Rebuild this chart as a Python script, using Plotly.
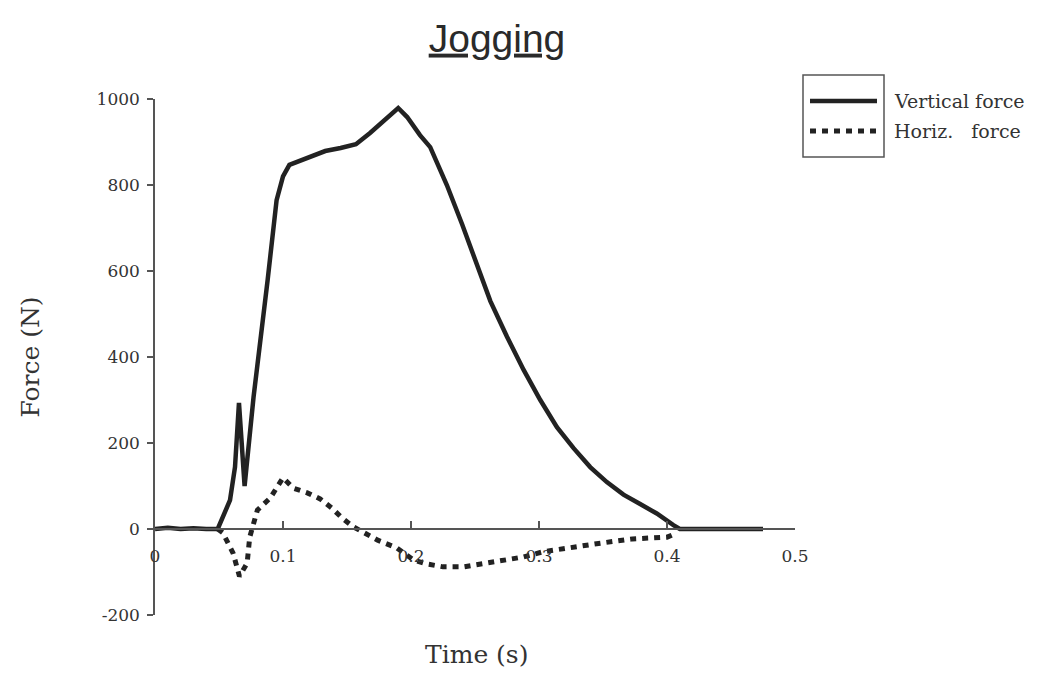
import plotly.graph_objects as go

# ---- data ----
time_vertical = [0, 0.01, 0.02, 0.03, 0.04, 0.049, 0.0586, 0.0625, 0.0656, 0.070, 0.077,
                 0.0836, 0.088, 0.095, 0.100, 0.105, 0.113, 0.120, 0.133, 0.145, 0.157,
                 0.168, 0.178, 0.190, 0.197, 0.207, 0.215, 0.228, 0.240, 0.250, 0.262,
                 0.275, 0.288, 0.301, 0.314, 0.327, 0.340, 0.353, 0.366, 0.379, 0.392,
                 0.405, 0.410, 0.43, 0.45, 0.475]
vertical_force = [0, 3, 0, 2, 0, 0, 67, 144, 293, 100, 307,
                  463, 579, 765, 820, 847, 856, 862, 879, 886, 895,
                  921, 947, 979, 958, 916, 888, 800, 708, 625, 530,
                  447, 370, 300, 237, 188, 144, 109, 80, 58, 36,
                  9, 0, 0, 0, 0]

time_horizontal = [0.049, 0.053, 0.061, 0.066, 0.072, 0.074, 0.080, 0.090, 0.100, 0.108,
                   0.119, 0.129, 0.138, 0.146, 0.155, 0.164, 0.174, 0.189, 0.202, 0.212,
                   0.225, 0.241, 0.256, 0.272, 0.288, 0.303, 0.322, 0.348, 0.373, 0.400, 0.408]
horizontal_force = [0, -9, -56, -110, -79, -19, 44, 72, 119, 95,
                    84, 70, 49, 26, 5, -9, -26, -44, -72, -81,
                    -88, -88, -81, -72, -65, -53, -44, -33, -23, -19, -9]

x_ticks = [0, 0.1, 0.2, 0.3, 0.4, 0.5]
x_tick_labels = ["0", "0.1", "0.2", "0.3", "0.4", "0.5"]
y_ticks = [-200, 0, 200, 400, 600, 800, 1000]
y_tick_labels = ["-200", "0", "200", "400", "600", "800", "1000"]

series_names = ["Vertical force", "Horiz.\u00a0\u00a0 force"]

LINE = "#222222"
AXIS = "#555555"
TXT = "#333333"
SERIF = "DejaVu Serif"

fig = go.Figure()
fig.add_trace(go.Scatter(x=time_vertical, y=vertical_force, mode="lines",
                         name=series_names[0],
                         line=dict(color=LINE, width=4.5)))
fig.add_trace(go.Scatter(x=time_horizontal, y=horizontal_force, mode="lines",
                         name=series_names[1],
                         line=dict(color=LINE, width=5, dash="6px,6px")))

# the page body adds an 8px offset; figure fills the rest of the window
OFF = 8
W, H = 1043 - OFF, 676 - OFF
L, T = 155 - OFF, 99 - OFF
pw, ph = 640, 516
R, B = W - L - pw, H - T - ph


def px(xs):
    return (xs - OFF - L) / pw


def py(ys):
    return (T + ph - (ys - OFF)) / ph


shapes = [
    dict(type="rect", xref="paper", yref="paper",
         x0=px(803), x1=px(884), y0=py(157), y1=py(75),
         line=dict(color=AXIS, width=1.5)),
    dict(type="line", xref="paper", yref="paper",
         x0=px(810), x1=px(877), y0=py(101), y1=py(101),
         line=dict(color=LINE, width=4.5)),
    dict(type="line", xref="paper", yref="paper",
         x0=px(810), x1=px(877), y0=py(131), y1=py(131),
         line=dict(color=LINE, width=5, dash="6px,6px")),
]
annotations = [
    dict(xref="paper", yref="paper", x=px(892), y=py(101), text=series_names[0],
         showarrow=False, xanchor="left", yanchor="middle",
         font=dict(family=SERIF, size=19, color=TXT)),
    dict(xref="paper", yref="paper", x=px(892), y=py(131), text=series_names[1],
         showarrow=False, xanchor="left", yanchor="middle",
         font=dict(family=SERIF, size=19, color=TXT)),
    # x-axis title placed below the free-positioned axis
    dict(xref="paper", yref="paper", x=px(476), y=py(654), text="Time (s)",
         showarrow=False, xanchor="center", yanchor="middle",
         font=dict(family=SERIF, size=25, color=TXT)),
]

fig.update_layout(
    width=W, height=H,
    margin=dict(l=L, r=R, t=T, b=B, autoexpand=False),
    paper_bgcolor="white", plot_bgcolor="white",
    showlegend=False,
    title=dict(text="<u>Jogging</u>", x=(497 - OFF) / W, xref="container", xanchor="center",
               y=1 - (38 - OFF) / H, yref="container", yanchor="middle",
               font=dict(family="Liberation Sans", size=39, color="#2a2a2a")),
    shapes=shapes,
    annotations=annotations,
)

fig.update_xaxes(
    range=[0, 0.5], tickvals=x_ticks, ticktext=x_tick_labels,
    anchor="free", position=200 / 1200, automargin=False,
    showline=True, linecolor=AXIS, linewidth=1.5,
    ticks="inside", ticklen=7, tickcolor=AXIS, tickwidth=1.5,
    ticklabelstandoff=12,
    showgrid=False, zeroline=False,
    tickfont=dict(family=SERIF, size=17, color=TXT),
)
fig.update_yaxes(
    range=[-200, 1000], tickvals=y_ticks, ticktext=y_tick_labels, automargin=False,
    showline=True, linecolor=AXIS, linewidth=1.5,
    ticks="outside", ticklen=6, tickcolor=AXIS, tickwidth=1.5,
    ticklabelstandoff=4,
    showgrid=False, zeroline=False,
    tickfont=dict(family=SERIF, size=17, color=TXT),
    title=dict(text="Force (N)", standoff=50,
               font=dict(family=SERIF, size=25, color=TXT)),
)

fig.write_html("out.html")
